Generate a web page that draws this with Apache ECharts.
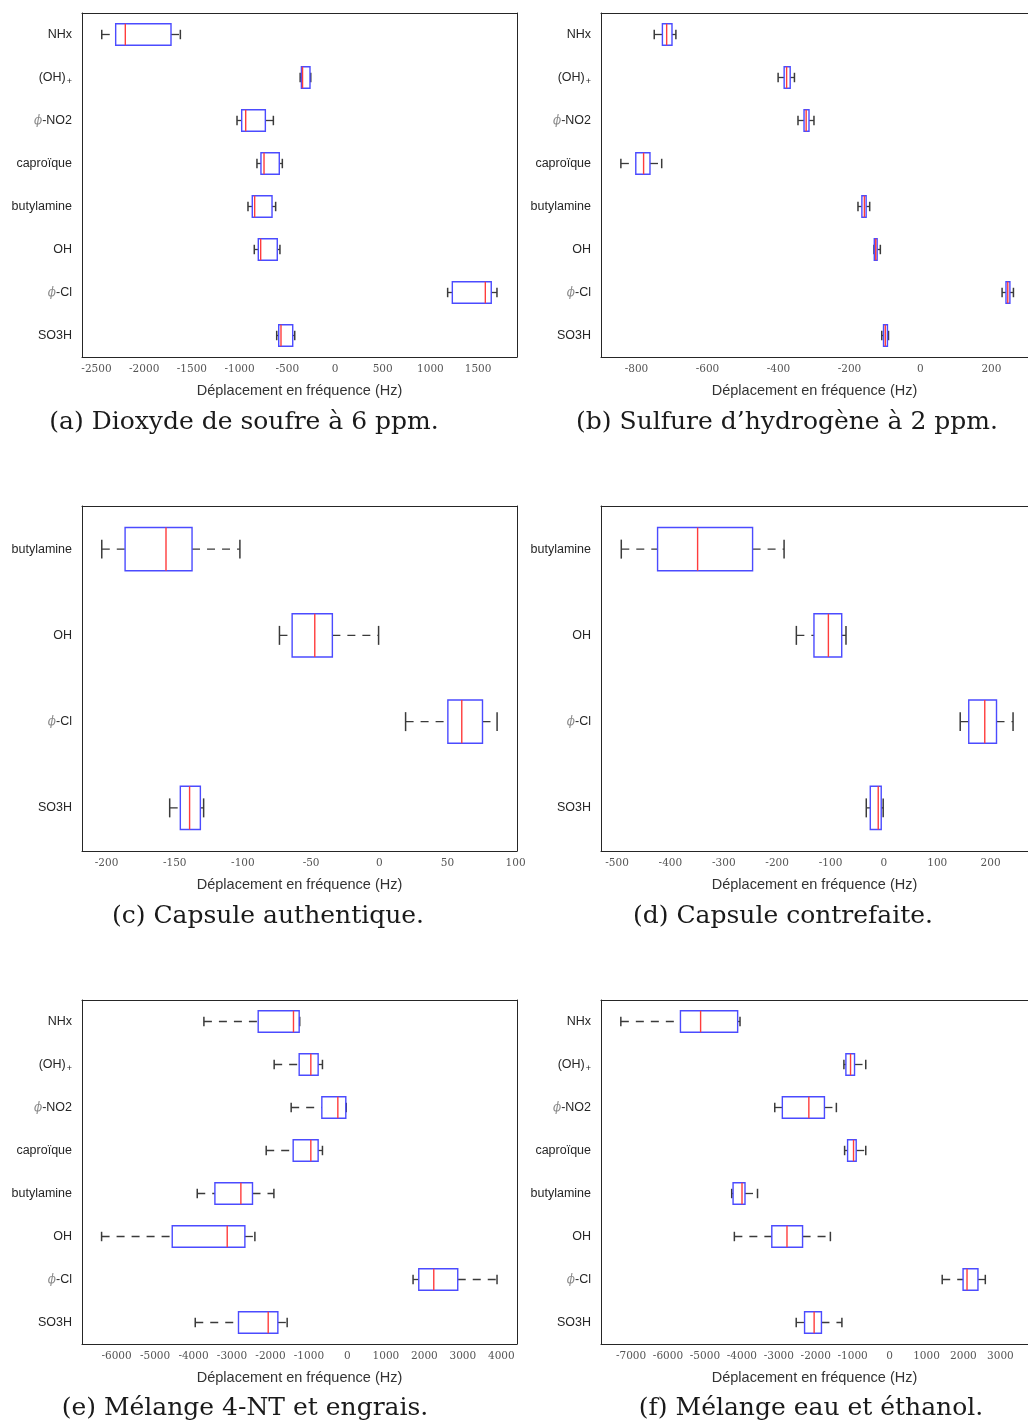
<!DOCTYPE html>
<html>
<head>
<meta charset="utf-8">
<script src="https://cdn.jsdelivr.net/npm/echarts@6/dist/echarts.min.js"></script>
<style>
  body { margin: 0; background: #fff; }
  #chart { width: 1028px; height: 1423px; }
</style>
</head>
<body>
<div id="chart"></div>
<script>
const allCats = ['NHx', '(OH)+', 'ϕ-NO2', 'caproïque', 'butylamine', 'OH', 'ϕ-Cl', 'SO3H']
const capsuleCats = ['butylamine', 'OH', 'ϕ-Cl', 'SO3H']

// [moustache basse, Q1, médiane, Q3, moustache haute] en Hz
const soufre6ppm = [
  [-2445, -2299, -2198, -1719, -1621],
  [-365, -352, -340, -262, -254],
  [-1027, -978, -936, -730, -646],
  [-818, -776, -744, -584, -552],
  [-912, -867, -842, -660, -622],
  [-846, -804, -779, -605, -577],
  [1181, 1230, 1576, 1638, 1698],
  [-611, -590, -566, -443, -422]
]
const sulfure2ppm = [
  [-750, -727, -715, -700, -689],
  [-401, -384, -377, -367, -355],
  [-345, -328, -322, -314, -300],
  [-844, -802, -780, -762, -729],
  [-176, -165, -158, -153, -143],
  [-131, -130, -126, -122, -113],
  [230, 241, 246, 252, 262],
  [-109, -104, -99, -93, -90]
]
const capsuleAuth = [
  [-203.5, -186.4, -156.4, -137.3, -102.2],
  [-73.2, -63.9, -47.3, -34.4, -0.5],
  [19.3, 50.3, 60.5, 75.7, 86.4],
  [-153.7, -145.9, -139.1, -131.2, -128.8]
]
const capsuleFake = [
  [-492, -424, -349, -246, -187],
  [-164, -131, -104, -79, -71],
  [143, 159, 189, 211, 242],
  [-33, -25.5, -10.6, -5, -1.3]
]
const melangeNT = [
  [-3730, -2319, -1402, -1254, -1240],
  [-1904, -1254, -951, -761, -649],
  [-1462, -665, -249, -42, -30],
  [-2111, -1410, -951, -761, -649],
  [-3903, -3444, -2769, -2467, -1911],
  [-6389, -4553, -3124, -2665, -2405],
  [1706, 1854, 2244, 2867, 3888],
  [-3955, -2831, -2059, -1808, -1566]
]
const melangeEau = [
  [-7277, -5663, -5117, -4114, -4050],
  [-1237, -1183, -1057, -949, -645],
  [-3109, -2904, -2186, -1764, -1441],
  [-1218, -1137, -976, -904, -645],
  [-4275, -4238, -3996, -3915, -3576],
  [-4203, -3189, -2778, -2356, -1603],
  [1425, 1990, 2097, 2393, 2592],
  [-2528, -2302, -2043, -1845, -1291]
]

const ticksA = [-2500, -2000, -1500, -1000, -500, 0, 500, 1000, 1500]
const ticksB = [-800, -600, -400, -200, 0, 200]
const ticksC = [-200, -150, -100, -50, 0, 50, 100]
const ticksD = [-500, -400, -300, -200, -100, 0, 100, 200]
const ticksE = [-6000, -5000, -4000, -3000, -2000, -1000, 0, 1000, 2000, 3000, 4000]
const ticksF = [-7000, -6000, -5000, -4000, -3000, -2000, -1000, 0, 1000, 2000, 3000]

const captions = [
  '(a) Dioxyde de soufre à 6 ppm.',
  '(b) Sulfure d’hydrogène à 2 ppm.',
  '(c) Capsule authentique.',
  '(d) Capsule contrefaite.',
  '(e) Mélange 4-NT et engrais.',
  '(f) Mélange eau et éthanol.'
]
const axisTitle = 'Déplacement en fréquence (Hz)'

// mise en page des six sous-figures
const panels = [
  { cats: allCats, data: soufre6ppm, ticks: ticksA, min: -2652, max: 1908, left: 82, top: 13, width: 435, height: 344, cx: 244, cy: 422 },
  { cats: allCats, data: sulfure2ppm, ticks: ticksB, min: -900, max: 303, left: 601, top: 13, width: 430, height: 344, cx: 787, cy: 422 },
  { cats: capsuleCats, data: capsuleAuth, ticks: ticksC, min: -218, max: 101, left: 82, top: 506, width: 435, height: 345, cx: 268, cy: 916 },
  { cats: capsuleCats, data: capsuleFake, ticks: ticksD, min: -530, max: 270, left: 601, top: 506, width: 430, height: 345, cx: 783, cy: 916 },
  { cats: allCats, data: melangeNT, ticks: ticksE, min: -6898, max: 4407, left: 82, top: 1000, width: 435, height: 344, cx: 245, cy: 1408 },
  { cats: allCats, data: melangeEau, ticks: ticksF, min: -7814, max: 3748, left: 601, top: 1000, width: 430, height: 344, cx: 811, cy: 1408 }
]

const axisColor = '#262626'

function catLabel(v) {
  if (v === '(OH)+') return '{t|(OH)}{sub|+}'
  if (v.charAt(0) === 'ϕ') return '{phi|ϕ}{t|' + v.slice(1) + '}'
  return '{t|' + v + '}'
}

const labelRich = {
  t: { fontFamily: 'Liberation Sans', fontSize: 12.5, color: axisColor },
  sub: { fontFamily: 'Liberation Sans', fontSize: 9, color: axisColor, padding: [9, 0, 0, 1] },
  phi: { fontFamily: 'DejaVu Serif', fontStyle: 'italic', fontSize: 12, color: '#8c8c8c' }
}

function renderBox(params, api) {
  const yi = api.value(0)
  const lo = api.coord([api.value(1), yi])
  const q1 = api.coord([api.value(2), yi])
  const med = api.coord([api.value(3), yi])
  const q3 = api.coord([api.value(4), yi])
  const hi = api.coord([api.value(5), yi])
  const band = api.size([0, 1])[1]
  const h = band * 0.25
  const c = band * 0.11
  const y = lo[1]
  const whisker = { stroke: '#3a3a3a', lineWidth: 1.3, lineDash: [8, 7] }
  const cap = { stroke: '#3a3a3a', lineWidth: 1.5 }
  return {
    type: 'group',
    children: [
      { type: 'line', shape: { x1: lo[0], y1: y, x2: q1[0], y2: y }, style: whisker },
      { type: 'line', shape: { x1: q3[0], y1: y, x2: hi[0], y2: y }, style: whisker },
      { type: 'line', shape: { x1: lo[0], y1: y - c, x2: lo[0], y2: y + c }, style: cap },
      { type: 'line', shape: { x1: hi[0], y1: y - c, x2: hi[0], y2: y + c }, style: cap },
      {
        type: 'rect',
        shape: { x: q1[0], y: y - h, width: q3[0] - q1[0], height: 2 * h },
        style: { fill: 'none', stroke: '#4b4bff', lineWidth: 1.4 }
      },
      {
        type: 'line',
        shape: { x1: med[0], y1: y - h, x2: med[0], y2: y + h },
        style: { stroke: '#ff3c3c', lineWidth: 1.4 }
      }
    ]
  }
}

const grid = []
const xAxis = []
const yAxis = []
const series = []
const graphic = []

panels.forEach((p, i) => {
  grid.push({ left: p.left, top: p.top, width: p.width, height: p.height })
  // axe du bas avec graduations et titre
  xAxis.push({
    type: 'value', gridIndex: i, position: 'bottom', min: p.min, max: p.max,
    name: axisTitle, nameLocation: 'middle', nameGap: 26,
    nameTextStyle: { fontFamily: 'Liberation Sans', fontSize: 14.5, color: '#333' },
    axisLine: { show: true, onZero: false, lineStyle: { color: axisColor } },
    axisTick: { inside: true, length: 4, customValues: p.ticks, lineStyle: { color: axisColor } },
    axisLabel: {
      customValues: p.ticks, margin: 7, fontFamily: 'DejaVu Serif', fontSize: 10.5, color: '#555',
      formatter: v => String(v)
    },
    splitLine: { show: false }
  })
  // axe du haut : simple cadre
  xAxis.push({
    type: 'value', gridIndex: i, position: 'top', min: p.min, max: p.max,
    axisLine: { show: true, onZero: false, lineStyle: { color: axisColor } },
    axisTick: { inside: true, length: 4, customValues: p.ticks, lineStyle: { color: axisColor } },
    axisLabel: { show: false },
    splitLine: { show: false }
  })
  yAxis.push({
    type: 'category', gridIndex: i, position: 'left', inverse: true, data: p.cats,
    axisLine: { show: true, onZero: false, lineStyle: { color: axisColor } },
    axisTick: { inside: true, length: 4, alignWithLabel: true, lineStyle: { color: axisColor } },
    axisLabel: { margin: 10, formatter: catLabel, rich: labelRich }
  })
  yAxis.push({
    type: 'category', gridIndex: i, position: 'right', inverse: true, data: p.cats,
    axisLine: { show: true, onZero: false, lineStyle: { color: axisColor } },
    axisTick: { inside: true, length: 4, alignWithLabel: true, lineStyle: { color: axisColor } },
    axisLabel: { show: false }
  })
  series.push({
    type: 'custom',
    xAxisIndex: 2 * i,
    yAxisIndex: 2 * i,
    renderItem: renderBox,
    encode: { x: [1, 2, 3, 4, 5], y: 0 },
    data: p.data.map((r, k) => [k].concat(r)),
    silent: true
  })
  graphic.push({
    type: 'text', x: p.cx, y: p.cy,
    style: {
      text: captions[i], fontFamily: 'DejaVu Serif', fontSize: 25, fill: '#1a1a1a',
      align: 'center', verticalAlign: 'middle'
    }
  })
})

const chart = echarts.init(document.getElementById('chart'))
chart.setOption({
  backgroundColor: '#fff',
  animation: false,
  grid: grid,
  xAxis: xAxis,
  yAxis: yAxis,
  series: series,
  graphic: graphic
})
</script>
</body>
</html>
